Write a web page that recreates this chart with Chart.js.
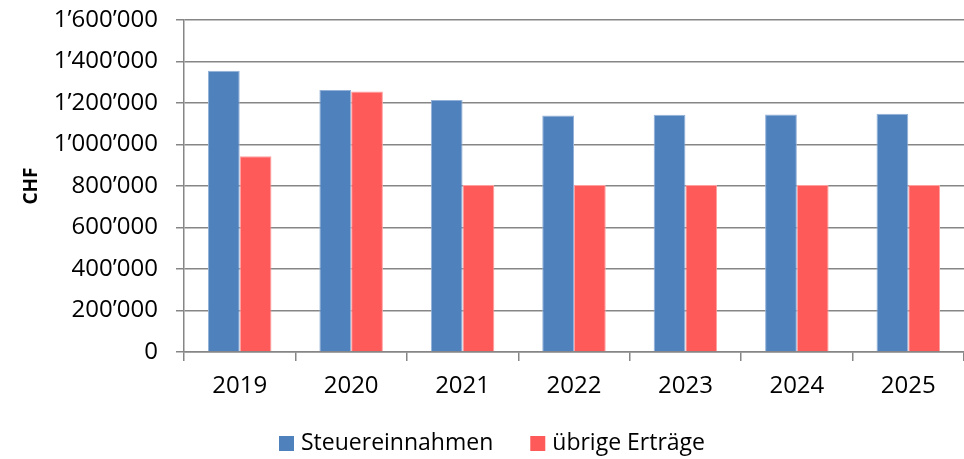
<!DOCTYPE html>
<html>
<head>
<meta charset="utf-8">
<script src="https://cdn.jsdelivr.net/npm/chart.js@4.4.1/dist/chart.umd.min.js"></script>
<style>
  html, body { margin: 0; padding: 0; background: #ffffff; }
  #chart { display: block; }
</style>
</head>
<body>
<canvas id="chart" width="964" height="459"></canvas>
<script>
// Jahre und Werte (CHF)
const jahre = ['2019', '2020', '2021', '2022', '2023', '2024', '2025'];
const steuereinnahmen = [1356000, 1263000, 1215000, 1140000, 1143000, 1145000, 1148000];
const uebrigeErtraege = [943000, 1255000, 805000, 805000, 805000, 805000, 805000];
const yTicks = [0, 200000, 400000, 600000, 800000, 1000000, 1200000, 1400000, 1600000];

const schrift = "'Open Sans', 'Noto Sans', sans-serif";
const gitterFarbe = '#868686';

// Zahlen mit Apostroph gruppieren: 1’600’000
function chf(v) {
    return String(v).replace(/\B(?=(\d{3})+(?!\d))/g, '\u2019');
}

// eigene Legende unten, damit Abstände wie im Original passen
const legendePlugin = {
    id: 'legendeUnten',
    afterDraw(chart) {
        const ctx = chart.ctx;
        const box = 15, luecke = 7, abstand = 37;
        ctx.save();
        ctx.font = '23px ' + schrift;
        ctx.textBaseline = 'middle';
        const items = chart.data.datasets.map(ds => ({
            text: ds.label, color: ds.backgroundColor, w: ctx.measureText(ds.label).width
        }));
        let gesamt = 0;
        items.forEach((it, i) => { gesamt += box + luecke + it.w + (i > 0 ? abstand : 0); });
        let x = chart.width / 2 + 10 - gesamt / 2;
        const y = 443;
        items.forEach(it => {
            ctx.fillStyle = it.color;
            ctx.fillRect(x, y - 7, box, box);
            x += box + luecke;
            ctx.fillStyle = '#000000';
            ctx.fillText(it.text, x, y);
            x += it.w + abstand;
        });
        ctx.restore();
    }
};

new Chart(document.getElementById('chart'), {
    type: 'bar',
    data: {
        labels: jahre,
        datasets: [
            {
                label: 'Steuereinnahmen',
                data: steuereinnahmen,
                backgroundColor: '#4f81bd',
                borderColor: '#93b1d8',
                borderWidth: { top: 1, left: 1, right: 1, bottom: 0 }
            },
            {
                label: 'übrige Erträge',
                data: uebrigeErtraege,
                backgroundColor: '#ff5a5a',
                borderColor: '#ffa0a0',
                borderWidth: { top: 1, left: 1, right: 1, bottom: 0 }
            }
        ]
    },
    plugins: [legendePlugin],
    options: {
        responsive: false,
        devicePixelRatio: 1,
        animation: false,
        barPercentage: 1.0,
        categoryPercentage: 0.57,
        layout: { padding: { top: 20, left: 20, right: 0, bottom: 47 } },
        plugins: {
            tooltip: { enabled: false },
            legend: { display: false }
        },
        scales: {
            x: {
                grid: {
                    offset: true,
                    drawOnChartArea: false,
                    drawTicks: true,
                    tickLength: 9,
                    color: gitterFarbe,
                    lineWidth: 1.5
                },
                border: { color: gitterFarbe, width: 1.5 },
                ticks: {
                    font: { family: schrift, size: 24 },
                    color: '#000000',
                    padding: 11,
                    maxRotation: 0
                },
                afterFit: s => { s.height = 60; }
            },
            y: {
                min: 0,
                max: 1600000,
                afterBuildTicks: s => { s.ticks = yTicks.map(v => ({ value: v })); },
                grid: {
                    color: gitterFarbe,
                    lineWidth: 1.5,
                    tickLength: 8
                },
                border: { color: gitterFarbe, width: 1.5 },
                ticks: {
                    font: { family: schrift, size: 24 },
                    color: '#000000',
                    padding: 18,
                    callback: v => chf(v)
                },
                title: {
                    display: true,
                    text: 'CHF',
                    font: { family: schrift, size: 19, weight: 'bold' },
                    color: '#000000',
                    padding: { top: 0, bottom: 0 }
                },
                afterFit: s => {
                    s.width = 164;
                    s.paddingTop = 0;
                    s.paddingBottom = 0;
                }
            }
        }
    }
});
</script>
</body>
</html>
